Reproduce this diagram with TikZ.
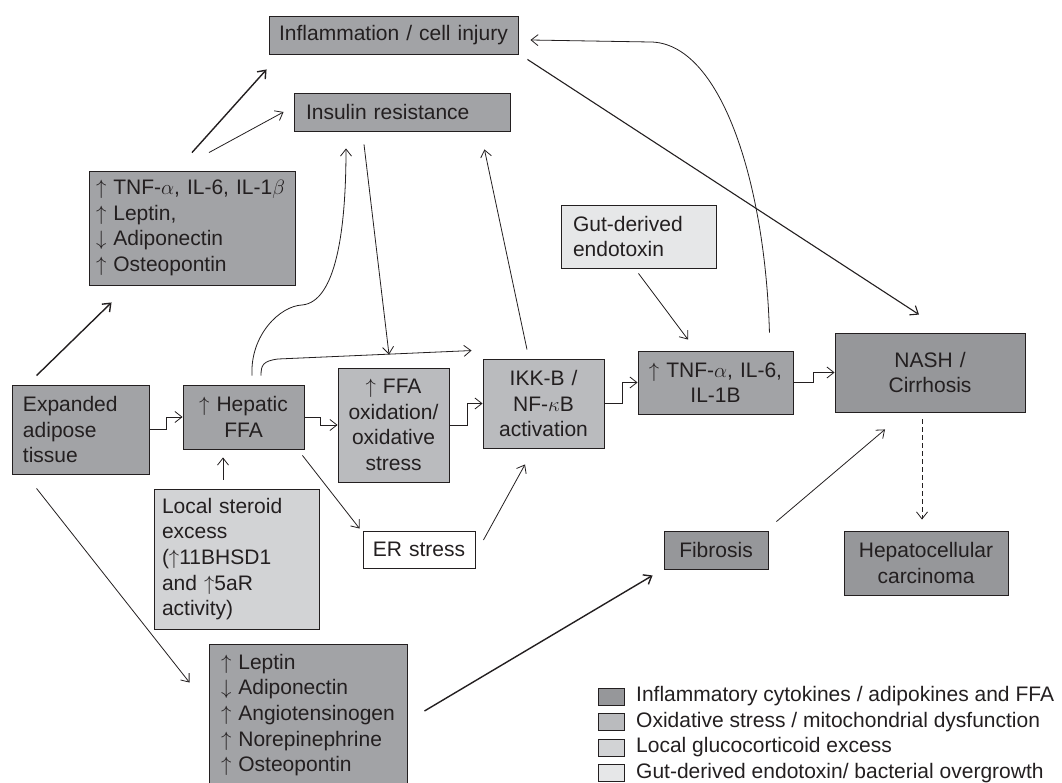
\documentclass[tikz,border=0pt]{standalone}
\usepackage{fontspec}
\setmainfont{Liberation Sans}
\usetikzlibrary{arrows.meta,calc}
\definecolor{catA}{HTML}{A2A3A6}
\definecolor{catAd}{HTML}{96979A}
\definecolor{catB}{HTML}{BABBBE}
\definecolor{catC}{HTML}{D2D3D5}
\definecolor{catD}{HTML}{E6E7E8}
\definecolor{ink}{HTML}{231F20}
\begin{document}
\begin{tikzpicture}[x=1pt,y=-1pt,
  every node/.style={font=\fontsize{21}{25.6}\selectfont, text=ink},
  bx/.style={draw=ink, line width=0.9pt, inner ysep=0pt},
  ctr/.style={align=center, inner xsep=2pt},
  lft/.style={align=left, inner xsep=#1},
  legsq/.style={draw=ink, line width=0.9pt, minimum width=26pt, minimum height=17pt, inner sep=0pt},
  conn/.style={draw=ink, line width=0.8pt, -{Straight Barb[length=7pt,width=11pt]}},
  heavy/.style={conn, line width=1.4pt},
  mid/.style={conn, line width=1.1pt}
]
\useasboundingbox (0,0) rectangle (1062,783);

% boxes
\node[bx, ctr, fill=catA, minimum width=249pt, minimum height=38pt, text width=245pt] (infl) at (393.5,35) {Inflammation / cell injury};
\node[bx, lft=12pt, fill=catA, minimum width=216pt, minimum height=38pt, text width=192pt] (ins) at (402,112) {Insulin resistance};
\node[bx, lft=7pt, fill=catA, minimum width=206pt, minimum height=114pt, text width=192pt] (tnfa) at (192,228)
  {$\uparrow$~TNF-$\alpha$, IL-6, IL-1$\beta$\\$\uparrow$~Leptin,\\$\downarrow$~Adiponectin\\$\uparrow$~Osteopontin};
\node[bx, lft=11pt, fill=catA, minimum width=137pt, minimum height=89pt, text width=115pt] (exp) at (80.5,429.5) {Expanded\\adipose\\tissue};
\node[bx, ctr, fill=catA, minimum width=121pt, minimum height=64pt, text width=117pt] (hep) at (243.5,417) {$\uparrow$~Hepatic\\FFA};
\node[bx, ctr, fill=catB, minimum width=111pt, minimum height=114pt, text width=107pt] (ffa) at (393.5,425) {$\uparrow$~FFA\\oxidation/\\oxidative\\stress};
\node[bx, ctr, fill=catB, minimum width=121pt, minimum height=89pt, text width=117pt] (ikk) at (543.5,403.5) {IKK-B /\\NF-$\kappa$B\\activation};
\node[bx, ctr, fill=catA, minimum width=155pt, minimum height=63pt, text width=151pt] (tnfb) at (715.5,382.5) {$\uparrow$~TNF-$\alpha$, IL-6,\\IL-1B};
\node[bx, ctr, fill=catAd, minimum width=190pt, minimum height=79pt, text width=186pt] (nash) at (930,372.5) {NASH /\\Cirrhosis};
\node[bx, lft=12pt, fill=catD, minimum width=155pt, minimum height=63pt, text width=131pt] (gut) at (638.5,236.5) {Gut-derived\\endotoxin};
\node[bx, lft=8pt, fill=catC, minimum width=165pt, minimum height=140pt, text width=149pt] (ster) at (236.5,559)
  {Local steroid\\excess\\($\uparrow$11BHSD1\\and $\uparrow$5aR\\activity)};
\node[bx, ctr, fill=white, minimum width=112pt, minimum height=37pt, text width=108pt] (er) at (419,549.5) {ER stress};
\node[bx, lft=12pt, fill=catA, minimum width=198pt, minimum height=142pt, text width=174pt] (lep) at (308,715)
  {$\uparrow$~Leptin\\$\downarrow$~Adiponectin\\$\uparrow$~Angiotensinogen\\$\uparrow$~Norepinephrine\\$\uparrow$~Osteopontin};
\node[bx, ctr, fill=catAd, minimum width=104pt, minimum height=38pt, text width=100pt] (fib) at (716,550) {Fibrosis};
\node[bx, ctr, fill=catAd, minimum width=164pt, minimum height=64pt, text width=160pt] (hcc) at (926,563) {Hepatocellular\\carcinoma};

% legend
\node[legsq, fill=catAd] (lg1) at (611,696.5) {};
\node[legsq, fill=catB] (lg2) at (611,722) {};
\node[legsq, fill=catC] (lg3) at (611,747.5) {};
\node[legsq, fill=catD] (lg4) at (611,773) {};
\node[anchor=west, inner sep=0pt] (lt1) at (636,696.5) {Inflammatory cytokines / adipokines and FFA};
\node[anchor=west, inner sep=0pt] (lt2) at (636,722) {Oxidative stress / mitochondrial dysfunction};
\node[anchor=west, inner sep=0pt] (lt3) at (636,747.5) {Local glucocorticoid excess};
\node[anchor=west, inner sep=0pt] (lt4) at (636,773) {Gut-derived endotoxin/ bacterial overgrowth};

% elbow connectors
\draw[conn] (exp.east) -- ++(17,0) |- (hep.west);
\draw[conn] (hep.east) -- ++(16,0) |- (ffa.west);
\draw[conn] (ffa.east) -- ++(18,0) |- (ikk.west);
\draw[conn] (ikk.east) -- ++(18,0) |- (tnfb.west);
\draw[conn] (tnfb.east) -- ++(20,0) |- (nash.west);

% straight connectors
\draw[heavy] ($(tnfa.north)+(0,-18)$) -- ($(infl.south west)+(-2,15)$);
\draw[conn] ($(tnfa.north)+(17,-18)$) -- ($(ins.west)+(-10,0)$);
\draw[heavy] ($(exp.north west)+(25,-9)$) -- ($(tnfa.south west)+(23,17)$);
\draw[conn] ($(exp.south west)+(25,14)$) -- ($(lep.north west)+(-19,39)$);
\draw[conn] ($(ster.north)+(-13.5,-9)$) -- ($(hep.south)+(-20.5,8)$);
\draw[conn] ($(hep.south east)+(-2,6)$) -- ($(er.north west)+(-3,-2)$);
\draw[conn] ($(er.east)+(8,-9.5)$) -- ($(ikk.south)+(-18.5,16)$);
\draw[conn] ($(ins.south)+(-38,13)$) -- ($(ffa.north)+(-4.5,-13)$);
\draw[conn] ($(ikk.north)+(-16.5,-9)$) -- ($(ins.south east)+(-26,18)$);
\draw[conn] ($(gut.south)+(0,5)$) -- ($(tnfb.north)+(-27.5,-11)$);
\draw[mid] ($(infl.south east)+(9,5)$) -- ($(nash.north)+(-11,-18)$);
\draw[conn] ($(fib.north east)+(8,-9)$) -- ($(nash.south)+(-45,17)$);
\draw[heavy] ($(lep.east)+(17,-4)$) -- ($(fib.south west)+(-11,6)$);
\draw[conn, dash pattern=on 5pt off 3pt] ($(nash.south)+(-8,7)$) -- ($(hcc.north)+(-4,-11)$);

% curved connectors
\draw[conn] ($(hep.north)+(8.5,-9)$) .. controls (250,335) and (280,306) .. (302,305)
  .. controls (336,302) and (346,230) .. ($(ins.south)+(-56,17)$);
\draw[conn] ($(hep.north)+(17.5,-9)$) .. controls (261,365) and (263,361) .. (278,359)
  -- ($(ikk.north west)+(-11,-8)$);
\draw[conn] ($(tnfb.north east)+(-24,-18)$) .. controls (765,180) and (720,42) .. (650,42)
  -- ($(infl.east)+(12,5)$);
\end{tikzpicture}
\end{document}
